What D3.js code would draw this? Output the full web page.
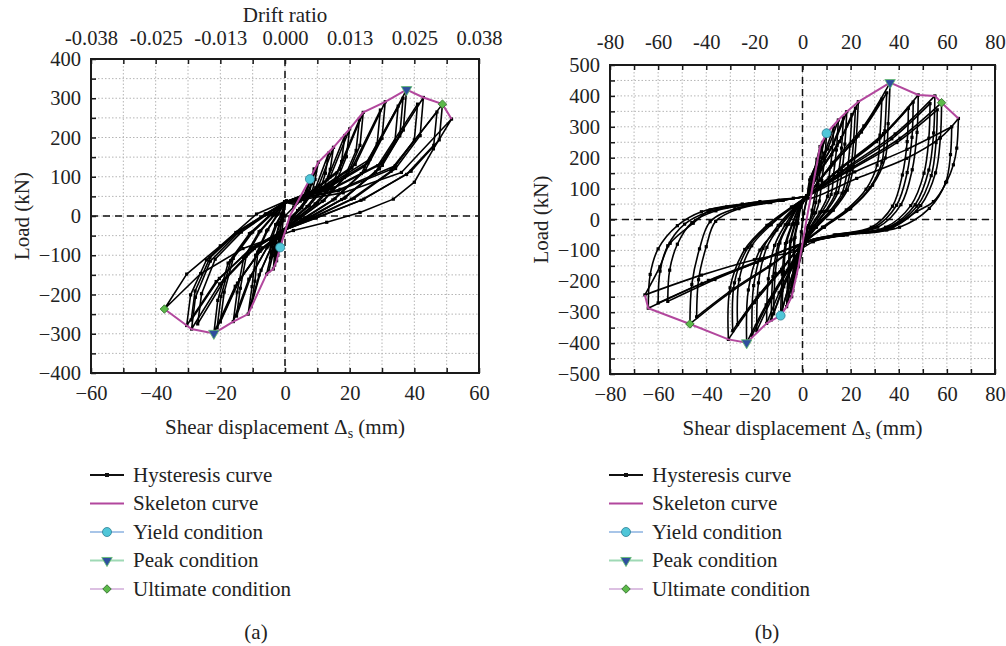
<!DOCTYPE html>
<html>
<head>
<meta charset="utf-8">
<script src="https://cdn.jsdelivr.net/npm/d3@7"></script>
<style>
body { margin: 0; background: #fff; }
svg { display: block; font-family: "Liberation Serif", "Times New Roman", serif; }
</style>
</head>
<body>
<svg width="1006" height="646"></svg>
<script>
// ---- tick labels ----
var xTicksA = [-60, -40, -20, 0, 20, 40, 60];
var yTicksA = [-400, -300, -200, -100, 0, 100, 200, 300, 400];
var driftLabels = ["-0.038", "-0.025", "-0.013", "0.000", "0.013", "0.025", "0.038"];
var xTicksB = [-80, -60, -40, -20, 0, 20, 40, 60, 80];
var yTicksB = [-500, -400, -300, -200, -100, 0, 100, 200, 300, 400, 500];

// ---- panel (a) : shear displacement (mm), load (kN) ----
var skeletonA = [[-37.3,-237],[-30.4,-279],[-28.9,-288],[-22,-299],[-16,-269],[-11.4,-250],[-5.7,-148],[-3.6,-135],
  [-2.6,-114],[-1.5,-80],[1.5,0],[7.7,94],[10.3,137],[15,175],[20,222],[24.2,264],[31,291],[37.6,322],[42.8,302],[48.7,285],[51.5,247]];
var yieldA = [[7.7,94],[-1.5,-80]];
var peakA = [[37.6,322],[-22,-299]];
var ultimateA = [[48.7,285],[-37.3,-237]];
var hysteresisA = [
  [[0,0],[2.7,23],[5.4,42],[7.7,94],[6.9,64],[6.2,38],[3.9,14],[1.5,-5],[0,-35],[-0.5,-50],[-1.5,-80],[-1.1,-56],[-0.6,-12],[0,35]],
  [[0,35],[3.6,33],[7.2,62],[10.3,137],[9.3,93],[8.2,55],[5.2,21],[2.1,-5],[0,-35],[-0.9,-45],[-1.8,-68],[-2.6,-114],[-2.2,-80],[-1.3,-17],[-0.5,5],[0,35]],
  [[0,35],[3.2,29],[6.3,54],[9,120],[8.2,82],[7.2,48],[4.5,18],[1.8,-5],[0,-35],[-0.8,-40],[-1.5,-60],[-2.2,-100],[-1.8,-70],[-1.1,-15],[-0.4,5],[0,35]],
  [[0,35],[5.3,42],[10.5,79],[15,175],[14,119],[12,70],[7.5,26],[3,-5],[0,-35],[-1.3,-41],[-2.5,-81],[-3.6,-135],[-3.2,-95],[-2.9,-54],[-1.8,-20],[-0.7,5],[0,35]],
  [[0,35],[4.7,38],[9.5,72],[13.5,160],[12.5,109],[10.8,64],[6.8,24],[2.7,-5],[0,-35],[-1.1,-38],[-2.2,-75],[-3.2,-125],[-2.8,-88],[-2.6,-50],[-1.6,-19],[-0.6,5],[0,35]],
  [[0,35],[7,53],[14,100],[20,222],[19,151],[16,89],[10,33],[4,-5],[0,-35],[-2,-44],[-4,-89],[-5.7,-148],[-4.5,-107],[-4.6,-59],[-2.9,-22],[-1.1,5],[0,35]],
  [[0,35],[6.5,49],[13,92],[18.5,205],[17.5,139],[14.8,82],[9.3,31],[3.7,-5],[0,-35],[-1.8,-42],[-3.5,-84],[-5,-140],[-3.8,-101],[-4,-56],[-2.5,-21],[-1,5],[0,35]],
  [[0,35],[8.5,63],[16.9,119],[24.2,264],[23.2,180],[19.4,106],[12.1,40],[4.8,-5],[0,-35],[-4,-75],[-8,-150],[-11.4,-250],[-10.2,-180],[-9.1,-100],[-5.7,-38],[-2.3,5],[0,35]],
  [[0,35],[8.1,59],[16.1,110],[23,245],[22,167],[18.4,98],[11.5,37],[4.6,-5],[0,-35],[-3.7,-69],[-7.4,-138],[-10.5,-230],[-9.3,-166],[-8.4,-92],[-5.3,-35],[-2.1,5],[0,35]],
  [[0,35],[10.9,70],[21.7,131],[31,291],[30,198],[24.8,116],[15.5,44],[6.2,-5],[0,-35],[-5.6,-81],[-11.2,-161],[-16,-269],[-14.8,-194],[-12.8,-108],[-8,-40],[-3.2,5],[0,35]],
  [[0,35],[10.3,65],[20.7,122],[29.5,270],[28.5,184],[23.6,108],[14.8,41],[5.9,-5],[0,-35],[-5.3,-77],[-10.5,-153],[-15,-255],[-13.8,-184],[-12,-102],[-7.5,-38],[-3,5],[0,35]],
  [[0,35],[13.2,77],[26.3,145],[37.6,322],[36.6,219],[30.1,129],[18.8,48],[7.5,-5],[0,-35],[-7.7,-90],[-15.4,-179],[-22,-299],[-20.8,-215],[-17.6,-120],[-11,-45],[-4.4,5],[0,35]],
  [[0,35],[12.8,72],[25.6,135],[36.5,300],[35.5,204],[29.2,120],[18.3,45],[7.3,-5],[0,-35],[-7.4,-86],[-14.7,-171],[-21,-285],[-19.8,-205],[-16.8,-114],[-10.5,-43],[-4.2,5],[0,35]],
  [[0,35],[12.3,67],[24.5,126],[35,280],[34,190],[28,112],[17.5,42],[7,-5],[0,-35],[-7,-81],[-14,-162],[-20,-270],[-18.8,-194],[-16,-108],[-10,-41],[-4,5],[0,35]],
  [[0,35],[15,72],[30,136],[42.8,302],[41.8,205],[34.2,121],[21.4,45],[8.6,-5],[0,-35],[-10.1,-86],[-20.2,-173],[-28.9,-288],[-27.7,-207],[-23.1,-115],[-14.5,-43],[-5.8,5],[0,35]],
  [[0,35],[14.4,68],[28.7,128],[41,285],[40,194],[32.8,114],[20.5,43],[8.2,-5],[0,-35],[-9.5,-83],[-18.9,-165],[-27,-275],[-25.8,-198],[-21.6,-110],[-13.5,-41],[-5.4,5],[0,35]],
  [[0,35],[17,68],[34.1,128],[48.7,285],[47.7,194],[39,114],[24.4,43],[9.7,-5],[0,-35],[-10.6,-84],[-21.3,-167],[-30.4,-279],[-29.2,-201],[-24.3,-112],[-15.2,-42],[-6.1,5],[0,35]],
  [[0,35],[16.5,64],[32.9,119],[47,265],[46,180],[37.6,106],[23.5,40],[9.4,-5],[0,-35],[-10.2,-80],[-20.3,-159],[-29,-265],[-27.8,-191],[-23.2,-106],[-14.5,-40],[-5.8,5],[0,35]],
  [[0,35],[18,59],[36,111],[51.5,247],[45.9,171],[40,86],[33.5,43],[23.2,9],[12.9,-16],[2.6,-37],[-13,-83],[-26.1,-147],[-37.3,-237],[-30.4,-148],[-20,-76],[-8.8,5],[0.5,39]]
];

// ---- panel (b) ----
var skeletonB = [[-65.5,-244],[-64.1,-287],[-46.8,-338],[-30.8,-388],[-23.2,-399],[-14.9,-336],[-9.1,-311],[-6.6,-282],
  [-4.5,-250],[-1.7,-153],[1.7,0],[7.3,236],[10,279],[14.9,322],[18.4,349],[23.2,381],[36.4,443],[48.1,403],[55,400],[57.8,378],[64.8,327]];
var yieldB = [[10,279],[-9.1,-311]];
var peakB = [[36.4,443],[-23.2,-399]];
var ultimateB = [[57.8,378],[-46.8,-338]];
var hysteresisB = [
  [[0,0],[2,70],[4,130],[6,195],[7.3,236],[6.8,170],[5.5,95],[4,30],[2.5,-20],[1,-60],[0,-100],[-1.7,-153],[-1.2,-100],[-0.5,-40],[0.5,20],[2,75]],
  [[2,75],[3.5,136],[7,201],[10,279],[9.2,195],[8,126],[7,60],[5.5,22],[2.5,-25],[1,-75],[-1.4,-128],[-2.9,-184],[-4.5,-250],[-3.8,-143],[-3.5,-63],[-2.2,-12],[-0.7,40],[2,75]],
  [[2,75],[3,128],[6,184],[8.5,250],[7.7,175],[6.5,113],[5.5,55],[4.5,20],[2,-25],[1,-75],[-1.2,-122],[-2.6,-174],[-4,-230],[-3.3,-131],[-3.1,-58],[-1.9,-12],[-0.6,40],[2,75]],
  [[2,75],[5.2,149],[10.4,228],[14.9,322],[14.1,225],[12.9,145],[11.9,81],[8.2,26],[3.7,-25],[1,-75],[-2,-137],[-4.3,-203],[-6.6,-282],[-5.9,-161],[-5.1,-71],[-3.2,-14],[-1,40],[2,75]],
  [[2,75],[4.6,143],[9.1,215],[13,300],[12.2,210],[11,135],[10.4,75],[7.2,24],[3.3,-25],[1,-75],[-1.8,-132],[-3.9,-193],[-6,-265],[-5.3,-151],[-4.7,-66],[-2.9,-13],[-0.9,40],[2,75]],
  [[2,75],[6.4,157],[12.9,245],[18.4,349],[17.6,244],[16.4,157],[14.7,87],[10.1,28],[4.6,-25],[1,-75],[-2.7,-146],[-5.9,-221],[-9.1,-311],[-8.4,-177],[-7.1,-78],[-4.4,-16],[-1.4,40],[2,75]],
  [[2,75],[6,152],[11.9,233],[17,330],[16.2,231],[15,149],[13.6,83],[9.4,26],[4.3,-25],[1,-75],[-2.6,-141],[-5.5,-211],[-8.5,-295],[-7.8,-168],[-6.6,-74],[-4.1,-15],[-1.3,40],[2,75]],
  [[2,75],[8.1,167],[16.2,265],[23.2,381],[22.4,267],[21.2,171],[18.6,95],[12.8,30],[5.8,-25],[1,-75],[-4.5,-153],[-9.7,-237],[-14.9,-336],[-14.2,-192],[-11.6,-84],[-7.2,-17],[-2.2,40],[2,75]],
  [[2,75],[7.7,161],[15.4,252],[22,360],[21.2,252],[20,162],[17.6,90],[12.1,29],[5.5,-25],[1,-75],[-3.9,-150],[-8.5,-230],[-13,-325],[-12.3,-185],[-10.1,-81],[-6.2,-16],[-2,40],[2,75]],
  [[2,75],[7.2,155],[14.4,239],[20.5,340],[19.7,238],[18.5,153],[16.4,85],[11.3,27],[5.1,-25],[1,-75],[-3.6,-144],[-7.8,-218],[-12,-305],[-11.3,-174],[-9.4,-76],[-5.8,-15],[-1.8,40],[2,75]],
  [[2,75],[12.7,185],[25.5,303],[36.4,443],[35.6,310],[34.4,199],[29.1,111],[20,35],[9.1,-25],[1,-75],[-7,-172],[-15.1,-276],[-23.2,-399],[-22.5,-228],[-17.7,-99],[-10.7,-34],[-3.5,30],[2,75]],
  [[2,75],[12.3,176],[24.5,283],[35,410],[34.2,287],[33,185],[28,103],[19.3,33],[8.8,-25],[1,-75],[-6.3,-165],[-13.7,-262],[-21,-375],[-20.3,-214],[-16.4,-94],[-10.1,-19],[-3.2,40],[2,75]],
  [[2,75],[11.6,170],[23.1,270],[33,390],[32.2,273],[31,176],[26.4,98],[18.2,31],[8.3,-25],[1,-75],[-5.7,-161],[-12.4,-252],[-19,-360],[-18.3,-205],[-14.8,-90],[-9.1,-18],[-2.9,40],[2,75]],
  [[2,75],[16.8,173],[33.7,278],[48.1,403],[47.6,282],[45.6,161],[40.9,48],[31.3,-25],[14.4,-50],[1,-75],[-9.2,-169],[-20,-269],[-30.8,-388],[-30.1,-221],[-24,-97],[-14.8,-19],[-4.6,40],[2,75]],
  [[2,75],[16.1,167],[32.2,264],[46,380],[45.5,266],[43.5,152],[39.1,46],[29.9,-25],[13.8,-50],[1,-75],[-8.7,-161],[-18.9,-252],[-29,-360],[-28.3,-205],[-22.6,-90],[-13.9,-18],[-4.4,40],[2,75]],
  [[2,75],[15.4,161],[30.8,252],[44,360],[43.5,252],[41.5,144],[37.4,43],[28.6,-25],[13.2,-50],[1,-75],[-8.1,-155],[-17.6,-239],[-27,-340],[-26.3,-194],[-21.1,-85],[-13,-17],[-4,40],[2,75]],
  [[2,75],[19.3,173],[38.5,277],[55,400],[54.5,280],[52.5,160],[46.8,48],[35.8,-25],[16.5,-50],[1,-75],[-14,-154],[-30.4,-238],[-46.8,-338],[-46,-210],[-42.8,-95],[-38.4,-7],[-28.1,35],[-14,55],[2,75]],
  [[2,75],[18.6,165],[37.1,261],[53,375],[52.5,263],[50.5,150],[45,45],[34.5,-25],[15.9,-50],[1,-75],[-13.2,-147],[-28.6,-224],[-44,-315],[-43.2,-195],[-40,-88],[-36.1,-6],[-26.4,35],[-13.2,55],[2,75]],
  [[2,75],[20.2,166],[40.5,263],[57.8,378],[57.3,265],[55.3,151],[49.1,45],[37.6,-25],[17.3,-50],[1,-75],[-19.2,-139],[-41.7,-207],[-64.1,-287],[-63.3,-178],[-60,-95],[-52,-20],[-42,25],[-25,50],[-10,62],[2,75]],
  [[2,75],[19.6,159],[39.2,249],[56,355],[55.5,249],[53.5,142],[47.6,43],[36.4,-25],[16.8,-50],[1,-75],[-18,-133],[-39,-197],[-60,-270],[-59.2,-167],[-56,-85],[-49,-15],[-39,25],[-22,50],[-9,62],[2,75]],
  [[2,75],[21.7,154],[43.4,227],[62,300],[61.5,210],[59.5,120],[52.7,36],[40.3,-25],[18.6,-50],[1,-75],[-16.8,-131],[-36.4,-194],[-56,-265],[-55.2,-164],[-52,-80],[-46,-10],[-36,28],[-20,52],[-8,62],[2,75]],
  [[2,75],[3,69],[22.5,133],[43.3,198],[57.1,263],[64.8,327],[64.1,231],[62.7,177],[59.9,122],[54.4,58],[47.5,26],[35,-34],[17,-50],[4.5,-72],[-2,-100],[-20,-130],[-42,-180],[-65.5,-244],[-59.3,-153],[-55,-77],[-45.4,-12],[-38.4,31],[-31.5,41],[-17.7,58],[-3.8,69]]
];

var legendNames = ["Hysteresis curve", "Skeleton curve", "Yield condition", "Peak condition", "Ultimate condition"];

var svg = d3.select("svg");
var FS = 21, TFS = 20.5;
var magenta = "#b2479d";

function marker(g, type, x, y) {
  if (type === "yield") {
    g.append("circle").attr("cx", x).attr("cy", y).attr("r", 4.5)
      .attr("fill", "#4fc6d8").attr("stroke", "#2f7f94").attr("stroke-width", 0.8);
  } else if (type === "peak") {
    g.append("path").attr("transform", "translate(" + x + "," + y + ") rotate(180)")
      .attr("d", d3.symbol(d3.symbolTriangle, 48)())
      .attr("fill", "#2f4f9e").attr("stroke", "#5fbf6a").attr("stroke-width", 0.8);
  } else {
    g.append("path").attr("transform", "translate(" + x + "," + y + ") rotate(45)")
      .attr("d", d3.symbol(d3.symbolSquare, 36)())
      .attr("fill", "#5cba4a").attr("stroke", "#2f6a2a").attr("stroke-width", 0.8);
  }
}

// cut a loop at its two load peaks so the smoothing keeps the tips sharp
function branches(loop) {
  var iMax = d3.maxIndex(loop, d => d[1]), iMin = d3.minIndex(loop, d => d[1]);
  var cuts = [0, Math.min(iMax, iMin), Math.max(iMax, iMin), loop.length - 1];
  var out = [];
  for (var k = 0; k < 3; k++) {
    if (cuts[k + 1] > cuts[k]) out.push(loop.slice(cuts[k], cuts[k + 1] + 1));
  }
  return out;
}

function drawPanel(p) {
  var x = d3.scaleLinear().domain(p.xDomain).range([p.left, p.right]);
  var y = d3.scaleLinear().domain(p.yDomain).range([p.bottom, p.top]);
  var g = svg.append("g");

  // dotted grid
  g.selectAll(".gx").data(d3.range(p.xDomain[0] + 10, p.xDomain[1], 10)).enter().append("line")
    .attr("x1", d => x(d)).attr("x2", d => x(d)).attr("y1", p.top).attr("y2", p.bottom)
    .attr("stroke", "#b5b5b5").attr("stroke-dasharray", "1.5,2");
  g.selectAll(".gy").data(d3.range(p.yDomain[0] + 50, p.yDomain[1], 50)).enter().append("line")
    .attr("y1", d => y(d)).attr("y2", d => y(d)).attr("x1", p.left).attr("x2", p.right)
    .attr("stroke", "#b5b5b5").attr("stroke-dasharray", "1.5,2");

  // zero dashed lines
  g.append("line").attr("x1", x(0)).attr("x2", x(0)).attr("y1", p.top).attr("y2", p.bottom)
    .attr("stroke", "#111").attr("stroke-width", 1.5).attr("stroke-dasharray", "7,5");
  g.append("line").attr("y1", y(0)).attr("y2", y(0)).attr("x1", p.left).attr("x2", p.right)
    .attr("stroke", "#111").attr("stroke-width", 1.5).attr("stroke-dasharray", "7,5");

  // hysteresis
  var line = d3.line().x(d => x(d[0])).y(d => y(d[1]));
  var hline = d3.line().x(d => x(d[0])).y(d => y(d[1]))
    .curve(p.smooth ? d3.curveCatmullRom.alpha(0.5) : d3.curveLinear);
  var segs = p.smooth ? d3.merge(p.hyst.map(branches)) : p.hyst;
  g.selectAll(".hl").data(segs).enter().append("path").attr("d", hline).attr("fill", "none")
    .attr("stroke", "#000").attr("stroke-width", 1.6).attr("stroke-linejoin", "round");
  var pts = d3.merge(p.hyst);
  g.selectAll(".hm").data(pts).enter().append("rect")
    .attr("x", d => x(d[0]) - 1.6).attr("y", d => y(d[1]) - 1.6)
    .attr("width", 3.2).attr("height", 3.2).attr("fill", "#000");

  // skeleton
  g.append("path").datum(p.skeleton).attr("d", line).attr("fill", "none")
    .attr("stroke", magenta).attr("stroke-width", 2);

  p.yield.forEach(d => marker(g, "yield", x(d[0]), y(d[1])));
  p.peak.forEach(d => marker(g, "peak", x(d[0]), y(d[1])));
  p.ultimate.forEach(d => marker(g, "ultimate", x(d[0]), y(d[1])));

  // frame
  g.append("rect").attr("x", p.left).attr("y", p.top)
    .attr("width", p.right - p.left).attr("height", p.bottom - p.top)
    .attr("fill", "none").attr("stroke", "#1a1a1a").attr("stroke-width", 2);

  // inward ticks
  var minorX = d3.range(p.xDomain[0], p.xDomain[1] + 1, 10);
  var minorY = d3.range(p.yDomain[0], p.yDomain[1] + 1, 50);
  g.append("g").attr("transform", "translate(0," + p.bottom + ")")
    .call(d3.axisBottom(x).tickValues(minorX).tickSize(-5).tickFormat(""));
  g.append("g").attr("transform", "translate(0," + p.top + ")")
    .call(d3.axisTop(x).tickValues(minorX).tickSize(-5).tickFormat(""));
  g.append("g").attr("transform", "translate(" + p.left + ",0)")
    .call(d3.axisLeft(y).tickValues(minorY).tickSize(-5).tickFormat(""));

  // labels
  var ax = g.append("g").attr("transform", "translate(0," + p.bottom + ")")
    .call(d3.axisBottom(x).tickValues(p.xTicks).tickSize(0).tickPadding(12));
  var at = g.append("g").attr("transform", "translate(0," + p.top + ")")
    .call(d3.axisTop(x).tickValues(p.xTicks).tickSize(0).tickPadding(p.topPad)
      .tickFormat((d, i) => p.topLabels ? p.topLabels[i] : d));
  var ay = g.append("g").attr("transform", "translate(" + p.left + ",0)")
    .call(d3.axisLeft(y).tickValues(p.yTicks).tickSize(0).tickPadding(10));
  g.selectAll("g").attr("font-family", null).attr("font-size", null);
  [ax, at, ay].forEach(function (a) {
    a.selectAll("text").attr("font-size", TFS).attr("fill", "#222");
  });
  g.selectAll(".tick line").attr("stroke", "#1a1a1a").attr("stroke-width", 1.5);
  g.selectAll(".domain").remove();

  // titles
  var cx = (p.left + p.right) / 2;
  var xt = g.append("text").attr("x", cx).attr("y", p.bottom + 61).attr("text-anchor", "middle")
    .attr("font-size", FS).attr("fill", "#222");
  xt.append("tspan").text("Shear displacement \u0394");
  xt.append("tspan").attr("font-size", 14).attr("dy", 4).text("s");
  xt.append("tspan").attr("dy", -4).text(" (mm)");
  g.append("text").attr("transform", "translate(" + p.yTitleX + "," + y(0) + ") rotate(-90)")
    .attr("text-anchor", "middle").attr("dy", "0.35em").attr("font-size", FS).attr("fill", "#222")
    .text("Load (kN)");
  if (p.topTitle) {
    g.append("text").attr("x", cx).attr("y", 22).attr("text-anchor", "middle")
      .attr("font-size", FS).attr("fill", "#222").text(p.topTitle);
  }

  // legend
  var lg = svg.append("g");
  var rowY = [475, 503.5, 532, 560.5, 589];
  var lineCol = ["#111", magenta, "#a8c5e8", "#9fd9b5", "#dcc0e2"];
  legendNames.forEach(function (name, i) {
    var yy = rowY[i];
    lg.append("line").attr("x1", p.legX).attr("x2", p.legX + 34).attr("y1", yy).attr("y2", yy)
      .attr("stroke", lineCol[i]).attr("stroke-width", i < 2 ? 2 : 1.8);
    var mx = p.legX + 17;
    if (i === 0) lg.append("rect").attr("x", mx - 2).attr("y", yy - 2).attr("width", 4).attr("height", 4).attr("fill", "#111");
    if (i === 2) marker(lg, "yield", mx, yy);
    if (i === 3) marker(lg, "peak", mx, yy);
    if (i === 4) marker(lg, "ultimate", mx, yy);
    lg.append("text").attr("x", p.legX + 43).attr("y", yy).attr("dy", "0.33em")
      .attr("font-size", FS).attr("fill", "#222").text(name);
  });
  svg.append("text").attr("x", p.capX).attr("y", 632).attr("dy", "0.33em").attr("text-anchor", "middle")
    .attr("font-size", FS).attr("fill", "#222").text(p.caption);
}

drawPanel({
  xDomain: [-60, 60], yDomain: [-400, 400],
  left: 91, right: 479, top: 59, bottom: 373,
  xTicks: xTicksA, yTicks: yTicksA, topLabels: driftLabels, topPad: 14, topTitle: "Drift ratio",
  hyst: hysteresisA, skeleton: skeletonA, yield: yieldA, peak: peakA, ultimate: ultimateA, smooth: false,
  yTitleX: 22, legX: 90, capX: 256, caption: "(a)"
});
drawPanel({
  xDomain: [-80, 80], yDomain: [-500, 500],
  left: 610, right: 995, top: 65, bottom: 374,
  xTicks: xTicksB, yTicks: yTicksB, topLabels: null, topPad: 16, topTitle: null,
  hyst: hysteresisB, skeleton: skeletonB, yield: yieldB, peak: peakB, ultimate: ultimateB, smooth: true,
  yTitleX: 541, legX: 609, capX: 767, caption: "(b)"
});
</script>
</body>
</html>
